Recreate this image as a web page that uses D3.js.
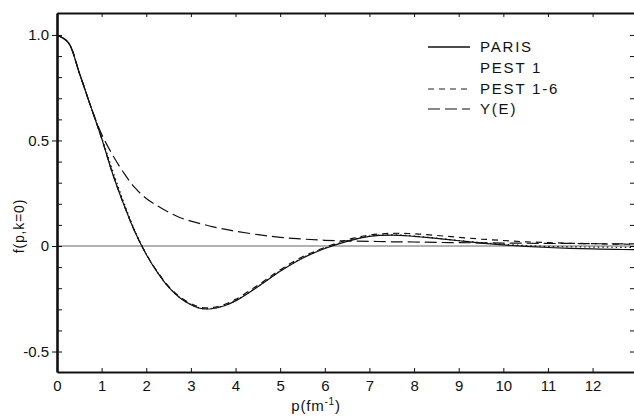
<!DOCTYPE html>
<html>
<head>
<meta charset="utf-8">
<script src="https://cdn.jsdelivr.net/npm/d3@7"></script>
<style>
  body { margin: 0; background: #fff; }
  svg { display: block; }
  text { font-family: "Liberation Sans", Arial, sans-serif; fill: #111; }
  .axis path, .axis line { stroke: #111; }
  .curve { fill: none; stroke: #111; stroke-width: 1.2; }
</style>
</head>
<body>
<div id="chart"></div>
<script>
// momentum grid (fm^-1), shared by all curves
var pGrid = [0, 0.25, 0.5, 0.75, 1.0, 1.25, 1.5, 1.75, 2.0, 2.25, 2.5, 2.75, 3.0, 3.25, 3.5, 3.75, 4.0,
  4.5, 5.0, 5.5, 6.0, 6.5, 7.0, 7.5, 8.0, 8.5, 9.0, 9.5, 10.0, 10.5, 11.0, 11.5, 12.0, 12.5, 12.95];

var paris = [1.0, 0.965, 0.82, 0.665, 0.51, 0.34, 0.195, 0.065, -0.04, -0.125, -0.195, -0.245, -0.278, -0.297,
  -0.296, -0.283, -0.26, -0.193, -0.12, -0.058, -0.012, 0.022, 0.046, 0.052, 0.046, 0.036, 0.025, 0.014,
  0.005, -0.002, -0.007, -0.011, -0.014, -0.016, -0.017];

var pest1 = [1.0, 0.965, 0.82, 0.665, 0.515, 0.355, 0.205, 0.07, -0.038, -0.124, -0.194, -0.244, -0.277, -0.296,
  -0.295, -0.282, -0.259, -0.192, -0.118, -0.056, -0.01, 0.024, 0.047, 0.053, 0.047, 0.037, 0.026, 0.016,
  0.008, 0.002, -0.002, -0.004, -0.005, -0.006, -0.006];

var pest16 = [1.0, 0.965, 0.82, 0.665, 0.51, 0.34, 0.195, 0.065, -0.039, -0.122, -0.191, -0.241, -0.273, -0.292,
  -0.291, -0.277, -0.253, -0.186, -0.113, -0.051, -0.007, 0.029, 0.052, 0.06, 0.058, 0.05, 0.041, 0.033,
  0.026, 0.02, 0.016, 0.013, 0.011, 0.009, 0.008];

var yamaguchi = [1.0, 0.965, 0.82, 0.665, 0.53, 0.43, 0.345, 0.275, 0.225, 0.19, 0.16, 0.135, 0.118, 0.104,
  0.091, 0.08, 0.07, 0.054, 0.041, 0.033, 0.027, 0.024, 0.022, 0.02, 0.019, 0.017, 0.016, 0.015,
  0.014, 0.013, 0.012, 0.012, 0.011, 0.01, 0.01];

var xTicks = [0, 1, 2, 3, 4, 5, 6, 7, 8, 9, 10, 11, 12];
var yMajor = [1.0, 0.5, 0, -0.5];
var yMajorLabels = ["1.0", "0.5", "0", "-0.5"];
var yMinor = [-0.5, -0.4, -0.3, -0.2, -0.1, 0, 0.1, 0.2, 0.3, 0.4, 0.5, 0.6, 0.7, 0.8, 0.9, 1.0];

var legendNames = ["PARIS", "PEST 1", "PEST 1-6", "Y(E)"];

var W = 634, H = 417;
var plotLeft = 57, plotTop = 13, plotRight = 635, plotBottom = 372;

var x = d3.scaleLinear().domain([0, 12.95]).range([plotLeft, plotRight]);
var y = d3.scaleLinear().domain([-0.597, 1.104]).range([plotBottom, plotTop]);

var svg = d3.select('#chart').append('svg').attr('width', W).attr('height', H);

// zero line
svg.append('line')
  .attr('x1', x(0)).attr('x2', plotRight)
  .attr('y1', y(0)).attr('y2', y(0))
  .attr('stroke', '#555').attr('stroke-width', 0.9);

// frame: bottom with labels, top and right with inner ticks only
svg.append('g').attr('class', 'axis')
  .attr('transform', 'translate(0,' + plotBottom + ')')
  .call(d3.axisBottom(x).tickValues(xTicks).tickSize(-4).tickSizeOuter(0).tickPadding(8).tickFormat(d3.format('d')))
  .call(function(g) {
    g.select('.domain').attr('stroke-width', 2);
    g.selectAll('text').attr('font-size', 15).attr('fill', '#111');
  });

svg.append('g').attr('class', 'axis')
  .attr('transform', 'translate(0,' + plotTop + ')')
  .call(d3.axisTop(x).tickValues(xTicks).tickSize(-4).tickSizeOuter(0).tickFormat(''))
  .call(function(g) { g.select('.domain').attr('stroke-width', 2); });

svg.append('g').attr('class', 'axis')
  .attr('transform', 'translate(' + plotRight + ',0)')
  .call(d3.axisRight(y).tickValues(yMinor).tickSize(-5).tickSizeOuter(0).tickFormat(''))
  .call(function(g) { g.select('.domain').attr('stroke-width', 2); });

// left axis: inner minor ticks, outer major ticks with labels
svg.append('g').attr('class', 'axis')
  .attr('transform', 'translate(' + plotLeft + ',0)')
  .call(d3.axisLeft(y).tickValues(yMinor).tickSize(-5).tickSizeOuter(0).tickFormat(''))
  .call(function(g) { g.select('.domain').attr('stroke-width', 2.6); });

svg.append('g').attr('class', 'axis')
  .attr('transform', 'translate(' + plotLeft + ',0)')
  .call(d3.axisLeft(y).tickValues(yMajor).tickSize(5).tickPadding(3)
    .tickFormat(function(d, i) { return yMajorLabels[i]; }))
  .call(function(g) {
    g.select('.domain').remove();
    g.selectAll('text').attr('font-size', 15).attr('fill', '#111');
  });

// axis titles
var xl = svg.append('text').attr('x', 316).attr('y', 411).attr('text-anchor', 'middle').attr('font-size', 15)
  .attr('letter-spacing', 0.8);
xl.append('tspan').text('p(fm');
xl.append('tspan').attr('dy', -6).attr('font-size', 10).text('-1');
xl.append('tspan').attr('dy', 6).text(')');

svg.append('text')
  .attr('transform', 'translate(24,226) rotate(-90)')
  .attr('text-anchor', 'middle').attr('font-size', 14).attr('letter-spacing', 0.8)
  .text('f(p,k=0)');

// curves
var line = d3.line()
  .x(function(d) { return x(d[0]); })
  .y(function(d) { return y(d[1]); })
  .curve(d3.curveCatmullRom.alpha(0.5));

function pairs(vals) { return pGrid.map(function(p, i) { return [p, vals[i]]; }); }

var series = [
  { vals: paris, dash: null, width: 1.3, color: '#111' },
  { vals: pest1, dash: '1.5,3', width: 1, color: '#777' },
  { vals: pest16, dash: '6,5', width: 1.1, color: '#222' },
  { vals: yamaguchi, dash: '12,5', width: 1.2, color: '#111' }
];

series.forEach(function(s) {
  svg.append('path').datum(pairs(s.vals))
    .attr('class', 'curve')
    .attr('stroke', s.color)
    .attr('stroke-width', s.width)
    .attr('stroke-dasharray', s.dash)
    .attr('d', line);
});

// legend
var legendY = [47, 68, 89, 109];
var lg = svg.append('g');
legendNames.forEach(function(name, i) {
  var s = series[i];
  if (i !== 1) {
    lg.append('line')
      .attr('x1', 428).attr('x2', 470)
      .attr('y1', legendY[i]).attr('y2', legendY[i])
      .attr('stroke', s.color).attr('stroke-width', s.width)
      .attr('stroke-dasharray', s.dash);
  }
  lg.append('text')
    .attr('x', 480).attr('y', legendY[i] + 5)
    .attr('font-size', 15).attr('letter-spacing', 1.8)
    .text(name);
});
</script>
</body>
</html>
